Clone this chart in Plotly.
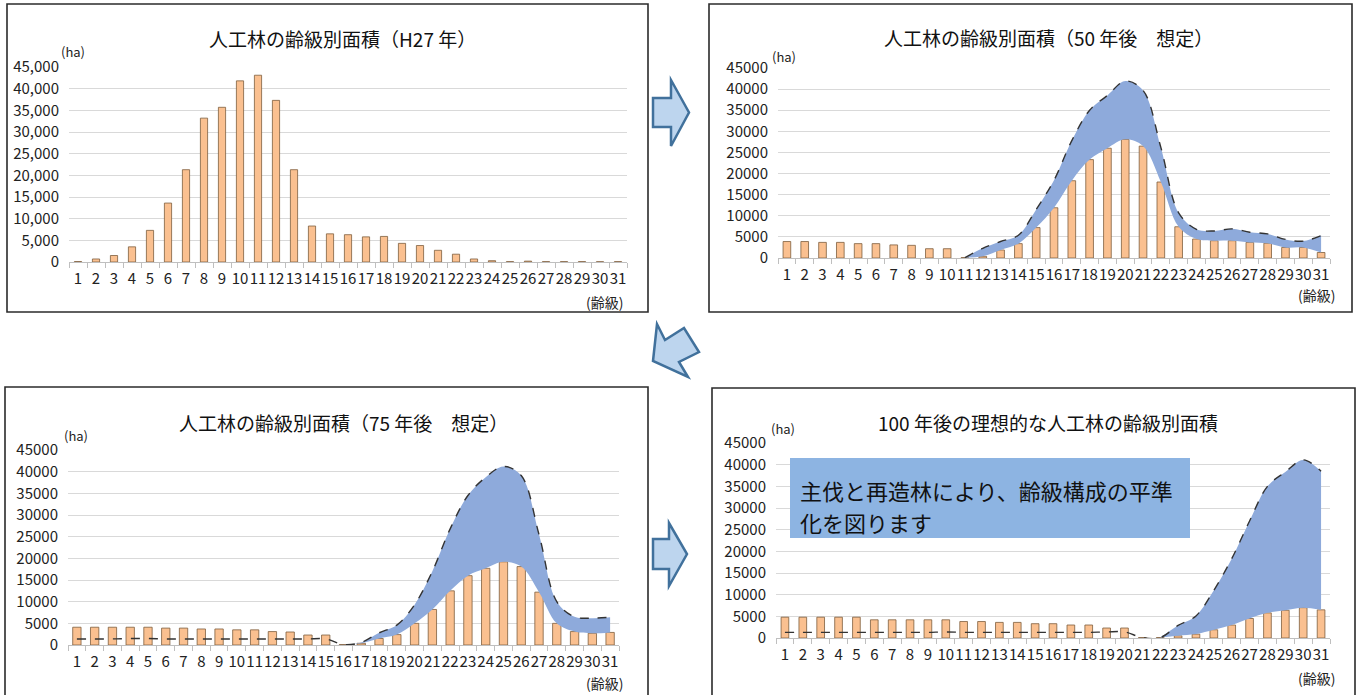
import plotly.graph_objects as go

W, H = 1360, 695
FONT = "Noto Sans CJK JP"

cats = [str(i) for i in range(1, 32)]

# ---- Panel 1: H27 ----
h27_area = [100, 700, 1500, 3500, 7300, 13600, 21300, 33200, 35700, 41800, 43100,
            37300, 21300, 8300, 6500, 6300, 5800, 5900, 4300, 3800, 2700, 1800,
            700, 300, 80, 200, 80, 80, 80, 60, 80]

# ---- Panel 2: 50 years later ----
y50_area = [3900, 3900, 3700, 3700, 3400, 3400, 3100, 3000, 2200, 2200, 100,
            400, 1900, 3400, 7200, 11900, 18300, 23300, 26000, 28100, 26500,
            18000, 7400, 4500, 4100, 4100, 3700, 3500, 2500, 2500, 1300]
y50_line_cats = cats[10:]
y50_upper = [100, 2300, 3900, 5400, 11500, 18400, 27800, 35000, 38500, 41900,
             39700, 26200, 10700, 6800, 6400, 6900, 6100, 5700, 4400, 4000, 5300]
y50_fill_cats = cats[10:]

# ---- Panel 3: 75 years later ----
y75_area = [4100, 4100, 4100, 4100, 4100, 3900, 3900, 3700, 3700, 3500, 3500,
            3100, 3000, 2300, 2300, 100, 400, 1500, 2400, 5000, 8200, 12500,
            16000, 17700, 19200, 18100, 12200, 5000, 3100, 2700, 2900]
y75_line_cats = cats
y75_upper = [1400, 1400, 1400, 1500, 1500, 1400, 1400, 1400, 1400, 1400, 1400,
             1400, 1400, 1400, 1400, 100, 600, 2800, 4600, 9300, 17000, 26800,
             34500, 38700, 41200, 39100, 25500, 10000, 6500, 6200, 6400]
y75_fill_start = 15  # index of category 16

# ---- Panel 4: 100 years later ----
y100_area = [4800, 4800, 4800, 4800, 4800, 4200, 4200, 4200, 4200, 4200, 3800,
             3800, 3600, 3600, 3300, 3300, 3000, 3000, 2300, 2300, 100, 100,
             500, 900, 1900, 3000, 4500, 5800, 6400, 7000, 6500]
y100_line_cats = cats
y100_upper = [1300, 1300, 1300, 1300, 1300, 1300, 1300, 1300, 1300, 1400, 1300,
              1300, 1300, 1300, 1300, 1300, 1300, 1300, 1400, 1400, 100, 100,
              2900, 5100, 11000, 18300, 27000, 35000, 38300, 41100, 38500]
y100_fill_start = 21  # index of category 22

titles = ["人工林の齢級別面積（H27 年）",
          "人工林の齢級別面積（50 年後　想定）",
          "人工林の齢級別面積（75 年後　想定）",
          "100 年後の理想的な人工林の齢級別面積"]
unit_y = "(ha)"
unit_x = "(齢級)"
note_lines = ["主伐と再造林により、齢級構成の平準", "化を図ります"]

BAR = "#FAC090"
BAR_EDGE = "#7E5E3E"
BLUE = "#8EAADB"
BOX = "#8DB4E2"
GRID = "#D9D9D9"


def px(x):
    return x / W


def py(y):
    return 1 - y / H


panels = [
    dict(x0=69, x1=627, yb=262, yt=67, frame=(7, 4, 648, 312),
         title=(342, 39), ha=(73, 51), rk=(604, 302), fmt=",d", bw=0.40),
    dict(x0=778, x1=1330, yb=258, yt=68, frame=(709, 4, 1352, 312),
         title=(1048, 38), ha=(784, 57), rk=(1316, 295), fmt="d", bw=0.43),
    dict(x0=68, x1=619, yb=645, yt=450, frame=(5, 387, 648, 700),
         title=(343, 423), ha=(76, 435), rk=(604, 683), fmt="d", bw=0.47),
    dict(x0=776, x1=1330, yb=638, yt=443, frame=(712, 388, 1355, 700),
         title=(1048, 423), ha=(783, 428), rk=(1316, 678), fmt="d", bw=0.43),
]

fig = go.Figure()
bar_data = [h27_area, y50_area, y75_area, y100_area]

for i, (p, vals) in enumerate(zip(panels, bar_data)):
    ax = "" if i == 0 else str(i + 1)
    xa, ya = "x" + ax, "y" + ax
    fig.add_trace(go.Bar(x=cats, y=vals, xaxis=xa, yaxis=ya, width=p["bw"],
                         marker=dict(color=BAR, line=dict(color=BAR_EDGE, width=0.8)),
                         showlegend=False, hoverinfo="x+y"))

    if i == 1:
        fcats, flow, fup = y50_fill_cats, y50_area[10:], y50_upper
        lcats, lup = y50_line_cats, y50_upper
    elif i == 2:
        s = y75_fill_start
        fcats, flow, fup = cats[s:], y75_area[s:], y75_upper[s:]
        lcats, lup = y75_line_cats, y75_upper
    elif i == 3:
        s = y100_fill_start
        fcats, flow, fup = cats[s:], y100_area[s:], y100_upper[s:]
        lcats, lup = y100_line_cats, y100_upper
    else:
        fcats = None

    if fcats is not None:
        fig.add_trace(go.Scatter(x=fcats, y=flow, xaxis=xa, yaxis=ya, mode="lines",
                                 line=dict(width=0, shape="spline", color=BLUE),
                                 showlegend=False, hoverinfo="skip"))
        fig.add_trace(go.Scatter(x=fcats, y=fup, xaxis=xa, yaxis=ya, mode="lines",
                                 line=dict(width=0, shape="spline", color=BLUE),
                                 fill="tonexty", fillcolor=BLUE,
                                 showlegend=False, hoverinfo="skip"))
        fig.add_trace(go.Scatter(x=lcats, y=lup, xaxis=xa, yaxis=ya, mode="lines",
                                 line=dict(width=1.4, shape="spline", color="#333333",
                                           dash="dash"),
                                 showlegend=False, hoverinfo="x+y"))

    xkey = "xaxis" + ax
    ykey = "yaxis" + ax
    fig.layout[xkey] = dict(
        domain=[px(p["x0"]), px(p["x1"])], anchor=ya, type="category",
        categoryorder="array", categoryarray=cats, range=[-0.5, 30.5],
        tickmode="linear", tick0=0, dtick=1, tickangle=0, automargin=False,
        showline=True, linecolor="#BFBFBF", linewidth=1,
        ticks="outside", tickson="boundaries", ticklen=5, tickcolor="#BFBFBF",
        showgrid=False, zeroline=False, ticklabelstandoff=3,
        tickfont=dict(family=FONT, size=15, color="#222222"), fixedrange=True)
    fig.layout[ykey] = dict(
        domain=[py(p["yb"]), py(p["yt"])], anchor=xa, range=[0, 45000],
        tickmode="linear", tick0=0, dtick=5000, tickformat=p["fmt"],
        showgrid=True, gridcolor=GRID, gridwidth=1, zeroline=False,
        showline=False, ticks="", ticklabelstandoff=9, automargin=False,
        tickfont=dict(family=FONT, size=15, color="#222222"), fixedrange=True)

    fx0, fy0, fx1, fy1 = p["frame"]
    fig.add_shape(type="rect", xref="paper", yref="paper",
                  x0=px(fx0), x1=px(fx1), y0=py(fy1), y1=py(fy0),
                  line=dict(color="#2B2B2B", width=1.6), fillcolor="rgba(0,0,0,0)")
    fig.add_annotation(text=titles[i], xref="paper", yref="paper",
                       x=px(p["title"][0]), y=py(p["title"][1]),
                       xanchor="center", yanchor="middle", showarrow=False,
                       font=dict(family=FONT, size=19, color="#111111"))
    fig.add_annotation(text=unit_y, xref="paper", yref="paper",
                       x=px(p["ha"][0]), y=py(p["ha"][1]),
                       xanchor="center", yanchor="middle", showarrow=False,
                       font=dict(family=FONT, size=13, color="#222222"))
    fig.add_annotation(text=unit_x, xref="paper", yref="paper",
                       x=px(p["rk"][0]), y=py(p["rk"][1]),
                       xanchor="center", yanchor="middle", showarrow=False,
                       font=dict(family=FONT, size=14, color="#222222"))

fig.add_shape(type="rect", xref="paper", yref="paper",
              x0=px(790), x1=px(1190), y0=py(538), y1=py(458),
              line=dict(width=0), fillcolor=BOX, layer="above")
for txt, yy in zip(note_lines, [490, 522]):
    fig.add_annotation(text=txt, xref="paper", yref="paper", x=px(798), y=py(yy),
                       xanchor="left", yanchor="middle", showarrow=False,
                       font=dict(family=FONT, size=22, color="#111111"))


def path(points):
    s = ""
    for k, (x, y) in enumerate(points):
        s += ("M" if k == 0 else "L") + f" {px(x):.5f},{py(y):.5f} "
    return s + "Z"


arrows = [
    [(653, 98), (671, 98), (671, 80), (689, 112.5), (671, 146), (671, 127), (653, 127)],
    [(653, 361), (657, 324), (665, 340), (684, 328), (699, 352), (679, 362), (688, 377)],
    [(653, 539), (669, 539), (669, 523), (687, 554), (669, 586), (669, 569), (653, 569)],
]
for a in arrows:
    fig.add_shape(type="path", xref="paper", yref="paper", path=path(a),
                  fillcolor="#BDD5EE", line=dict(color="#41719C", width=2.5))

fig.update_layout(width=W, height=H,
                  margin=dict(l=0, r=0, t=0, b=0, pad=0, autoexpand=False),
                  paper_bgcolor="white", plot_bgcolor="white",
                  bargap=0.55, showlegend=False,
                  font=dict(family=FONT))

fig.write_html("out.html", config={"displayModeBar": False},
               post_script="document.body.style.margin='0';")
